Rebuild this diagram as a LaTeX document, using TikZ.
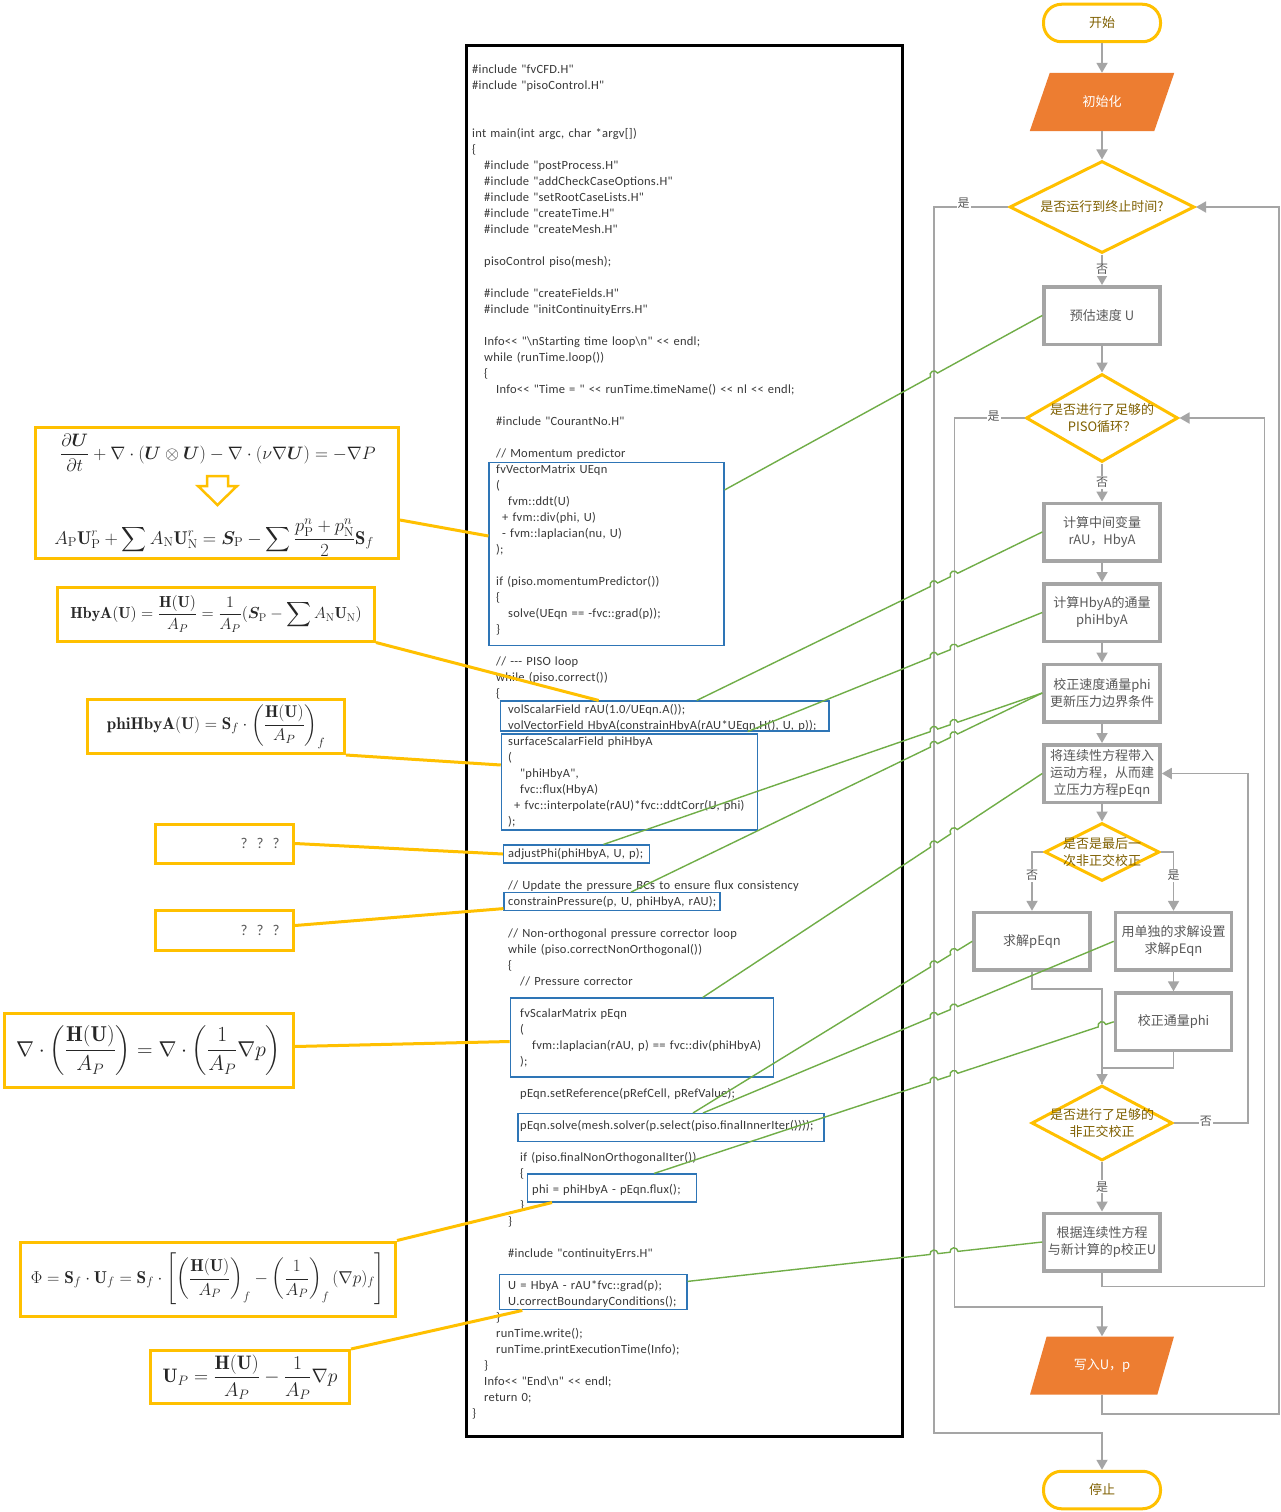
\documentclass[tikz,border=0pt]{standalone}
\usepackage{fix-cm}
\usepackage{amsmath}
\usepackage{bm}
\usepackage{fontspec}
\newfontfamily\kodefont{Carlito}[LetterSpace=2.0]
\newfontfamily\cjk{Noto Sans CJK SC}
\usetikzlibrary{arrows.meta,calc,positioning,shapes.geometric}
\definecolor{guld}{HTML}{FFC000}
\definecolor{orangefyld}{HTML}{ED7D31}
\definecolor{graa}{HTML}{A5A5A5}
\definecolor{groen}{HTML}{70AD47}
\definecolor{blaa}{HTML}{2E75B6}
\definecolor{tekstgraa}{HTML}{595959}
\definecolor{valgbrun}{HTML}{7F6000}
\newcommand{\indryk}[1]{\hspace*{#1pt}}
\newcommand{\hopsti}[3]{%
    \draw[gron] let \p1=(#1), \p2=(#2), \n1={atan2(\y2-\y1,\x2-\x1)} in
        (\p1) \foreach \xk in {#3} {
            -- ($(\p1)!{scalar((\xk-\x1)/(\x2-\x1))}!(\p2)+(\n1+180:4pt)$)
            arc[start angle=\n1+180, delta angle=-180, radius=4pt]
        } -- (\p2);}
\tikzset{
    >={Triangle[width=11pt,length=10pt]},
    formel/.style={
           draw=guld, line width=3pt,
           inner sep=2pt,
           text=black!85},
    kode/.style={
           draw=blaa, line width=1.1pt,
           inner sep=0pt},
    kodetekst/.style={
           anchor=north west,
           inner sep=0pt,
           text width=425pt,
           align=left,
           text=black!78,
           font=\kodefont\fontsize{12.5}{16}\selectfont},
    trin/.style={
           rectangle,
           draw=graa, line width=3.5pt,
           fill=white,
           minimum width=116pt, minimum height=57.5pt,
           inner sep=2pt,
           align=center,
           text=tekstgraa,
           font=\cjk\fontsize{13}{17}\selectfont},
    valg/.style={
           diamond,
           draw=guld, line width=3pt,
           fill=white,
           inner sep=0pt},
    valgtekst/.style={
           align=center,
           inner sep=0pt,
           text=valgbrun,
           font=\cjk\fontsize{13}{17}\selectfont},
    ende/.style={
           rectangle, rounded corners=18pt,
           draw=guld, line width=3pt,
           minimum width=117pt, minimum height=37.5pt,
           text=valgbrun,
           font=\cjk\fontsize{13}{17}\selectfont},
    io/.style={
           trapezium,
           trapezium left angle=65, trapezium right angle=115,
           trapezium stretches=true,
           minimum width=145pt, minimum height=58pt,
           fill=orangefyld,
           text=white,
           font=\cjk\fontsize{13}{17}\selectfont},
    pil/.style={
           ->,
           draw=graa, line width=1.8pt},
    linje/.style={
           draw=graa, line width=1.8pt},
    lys/.style={
           draw=guld, line width=3pt},
    gron/.style={
           draw=groen, line width=1.4pt},
    svar/.style={
           fill=white,
           inner sep=1pt,
           text=tekstgraa,
           font=\cjk\fontsize{12}{14}\selectfont}
}

\begin{document}
\begin{tikzpicture}[x=1pt, y=-1pt, node distance=19.5pt]
        \path[use as bounding box, fill=white] (0,0) rectangle (1281,1512);

        \node[formel, minimum width=363pt, minimum height=131pt] (f1) at (217,493) {};
        \node[text=black!85, inner sep=0pt, font=\fontsize{18}{21}\selectfont] (ns) at (218,453)
            {$\displaystyle\frac{\partial\bm{U}}{\partial t}+\nabla\cdot(\bm{U}\otimes\bm{U})-\nabla\cdot(\nu\nabla\bm{U})=-\nabla P$};
        \node[text=black!85, inner sep=0pt, font=\fontsize{18.5}{21}\selectfont] (disk) at (214,538)
            {$\displaystyle A_{\mathrm{P}}\mathbf{U}^r_{\mathrm{P}}+\sum A_{\mathrm{N}}\mathbf{U}^r_{\mathrm{N}}=\bm{S}_{\mathrm{P}}-\sum\frac{p^n_{\mathrm{P}}+p^n_{\mathrm{N}}}{2}\mathbf{S}_f$};
        \draw[lys, line width=2.5pt, line join=miter] (207,476) -- (228,476) -- (228,486) -- (237,486)
            -- (217.5,505) -- (198,486) -- (207,486) -- cycle;
        \node[formel, minimum width=317pt, minimum height=54pt, font=\fontsize{16}{19}\selectfont] (f2) at (216,614)
            {$\displaystyle\mathbf{HbyA}(\mathbf{U})=\frac{\mathbf{H}(\mathbf{U})}{A_P}=\frac{1}{A_P}(\bm{S}_{\mathrm{P}}-\sum A_{\mathrm{N}}\mathbf{U}_{\mathrm{N}})$};
        \node[formel, minimum width=257pt, minimum height=54pt, font=\fontsize{17}{20}\selectfont] (f3) at (216,726.5)
            {$\displaystyle\mathbf{phiHbyA}(\mathbf{U})=\mathbf{S}_f\cdot\left(\frac{\mathbf{H}(\mathbf{U})}{A_P}\right)_f$};
        \node[formel, minimum width=138pt, minimum height=39pt, text width=110pt, align=right,
            text=tekstgraa, font=\kodefont\fontsize{15}{17}\selectfont] (f4) at (224.5,843.5) {?\hspace{9pt}?\hspace{9pt}?};
        \node[formel, minimum width=138pt, minimum height=40pt, text width=110pt, align=right,
            text=tekstgraa, font=\kodefont\fontsize{15}{17}\selectfont] (f5) at (224.5,930.5) {?\hspace{9pt}?\hspace{9pt}?};
        \node[formel, minimum width=289pt, minimum height=74pt, font=\fontsize{21.5}{25}\selectfont] (f6) at (148.7,1050.5)
            {$\displaystyle\nabla\cdot\left(\frac{\mathbf{H}(\mathbf{U})}{A_P}\right)=\nabla\cdot\left(\frac{1}{A_P}\nabla p\right)$};
        \node[formel, minimum width=375pt, minimum height=74pt, font=\fontsize{17.2}{20}\selectfont] (f7) at (208,1279)
            {$\displaystyle\Phi=\mathbf{S}_f\cdot\mathbf{U}_f=\mathbf{S}_f\cdot\left[\left(\frac{\mathbf{H}(\mathbf{U})}{A_P}\right)_f-\left(\frac{1}{A_P}\right)_f(\nabla p)_f\right]$};
        \node[formel, minimum width=199pt, minimum height=53pt, font=\fontsize{19.5}{23}\selectfont] (f8) at (250,1377)
            {$\displaystyle\mathbf{U}_P=\frac{\mathbf{H}(\mathbf{U})}{A_P}-\frac{1}{A_P}\nabla p$};

        \node[draw, line width=3pt, minimum width=436pt, minimum height=1391pt] (kodeboks) at (684.5,741) {};
        \node[kodetekst] (kilde) at (472,61.8) {\strut\#include "fvCFD.H"\\
\#include "pisoControl.H"\\
\mbox{}\\
\mbox{}\\
int main(int argc, char *argv[])\\
\{\\
\indryk{12}\#include "postProcess.H"\\
\indryk{12}\#include "addCheckCaseOptions.H"\\
\indryk{12}\#include "setRootCaseLists.H"\\
\indryk{12}\#include "createTime.H"\\
\indryk{12}\#include "createMesh.H"\\
\mbox{}\\
\indryk{12}pisoControl piso(mesh);\\
\mbox{}\\
\indryk{12}\#include "createFields.H"\\
\indryk{12}\#include "initContinuityErrs.H"\\
\mbox{}\\
\indryk{12}Info<{}< "\textbackslash nStarting time loop\textbackslash n" <{}< endl;\\
\indryk{12}while (runTime.loop())\\
\indryk{12}\{\\
\indryk{24}Info<{}< "Time = " <{}< runTime.timeName() <{}< nl <{}< endl;\\
\mbox{}\\
\indryk{24}\#include "CourantNo.H"\\
\mbox{}\\
\indryk{24}// Momentum predictor\\
\indryk{24}fvVectorMatrix UEqn\\
\indryk{24}(\\
\indryk{36}fvm::ddt(U)\\
\indryk{30}+ fvm::div(phi, U)\\
\indryk{30}- fvm::laplacian(nu, U)\\
\indryk{24});\\
\mbox{}\\
\indryk{24}if (piso.momentumPredictor())\\
\indryk{24}\{\\
\indryk{36}solve(UEqn == -fvc::grad(p));\\
\indryk{24}\}\\
\mbox{}\\
\indryk{24}// -{}-{}- PISO loop\\
\indryk{24}while (piso.correct())\\
\indryk{24}\{\\
\indryk{36}volScalarField rAU(1.0/UEqn.A());\\
\indryk{36}volVectorField HbyA(constrainHbyA(rAU*UEqn.H(), U, p));\\
\indryk{36}surfaceScalarField phiHbyA\\
\indryk{36}(\\
\indryk{48}"phiHbyA",\\
\indryk{48}fvc::flux(HbyA)\\
\indryk{42}+ fvc::interpolate(rAU)*fvc::ddtCorr(U, phi)\\
\indryk{36});\\
\mbox{}\\
\indryk{36}adjustPhi(phiHbyA, U, p);\\
\mbox{}\\
\indryk{36}// Update the pressure BCs to ensure flux consistency\\
\indryk{36}constrainPressure(p, U, phiHbyA, rAU);\\
\mbox{}\\
\indryk{36}// Non-orthogonal pressure corrector loop\\
\indryk{36}while (piso.correctNonOrthogonal())\\
\indryk{36}\{\\
\indryk{48}// Pressure corrector\\
\mbox{}\\
\indryk{48}fvScalarMatrix pEqn\\
\indryk{48}(\\
\indryk{60}fvm::laplacian(rAU, p) == fvc::div(phiHbyA)\\
\indryk{48});\\
\mbox{}\\
\indryk{48}pEqn.setReference(pRefCell, pRefValue);\\
\mbox{}\\
\indryk{48}pEqn.solve(mesh.solver(p.select(piso.finalInnerIter())));\\
\mbox{}\\
\indryk{48}if (piso.finalNonOrthogonalIter())\\
\indryk{48}\{\\
\indryk{60}phi = phiHbyA - pEqn.flux();\\
\indryk{48}\}\\
\indryk{36}\}\\
\mbox{}\\
\indryk{36}\#include "continuityErrs.H"\\
\mbox{}\\
\indryk{36}U = HbyA - rAU*fvc::grad(p);\\
\indryk{36}U.correctBoundaryConditions();\\
\indryk{24}\}\\
\indryk{24}runTime.write();\\
\indryk{24}runTime.printExecutionTime(Info);\\
\indryk{12}\}\\
\indryk{12}Info<{}< "End\textbackslash n" <{}< endl;\\
\indryk{12}return 0;\\
\}};

        \node[kode, minimum width=235pt, minimum height=183pt] (ueqn) at (606.5,554) {};
        \node[kode, minimum width=328.5pt, minimum height=30pt] (rau) at (664.7,716) {};
        \node[kode, minimum width=256.4pt, minimum height=96pt] (phib) at (629.5,782) {};
        \node[kode, minimum width=146pt, minimum height=18pt] (adj) at (576.4,854) {};
        \node[kode, minimum width=216pt, minimum height=18pt] (cons) at (612,901.6) {};
        \node[kode, minimum width=263pt, minimum height=79pt] (peqnb) at (641.7,1037.5) {};
        \node[kode, minimum width=306pt, minimum height=28pt] (solve) at (671,1127.5) {};
        \node[kode, minimum width=169pt, minimum height=28pt] (phib2) at (612,1188) {};
        \node[kode, minimum width=187.3pt, minimum height=35pt] (ubox) at (593.3,1292.4) {};

        \node[ende] (start) at (1102,23) {开始};
        \node[io] (init) at (1102,102) {初始化};
        \node[valg, minimum width=185pt, minimum height=92pt,
            label={[valgtekst]center:是否运行到终止时间?}] (d1) at (1102,207) {};
        \node[trin] (forudsig) at (1102,315.5) {预估速度 U};
        \node[valg, minimum width=152pt, minimum height=88pt,
            label={[valgtekst]center:{是否进行了足够的\\PISO循环？}}] (d2) at (1102,418) {};
        \node[trin] (mellem) at (1102,532) {计算中间变量\\rAU，HbyA};
        \node[trin, below=of mellem] (flux) {计算HbyA的通量\\phiHbyA};
        \node[trin, below=of flux] (korr) {校正速度通量phi\\更新压力边界条件};
        \node[trin, below=of korr] (byg) {将连续性方程带入\\运动方程，从而建\\立压力方程pEqn};
        \node[valg, minimum width=115pt, minimum height=58pt,
            label={[valgtekst]center:{是否是最后一\\次非正交校正}}] (d3) at (1102,852) {};
        \node[trin] (los1) at (1032,941.3) {求解pEqn};
        \node[trin] (los2) at (1173.5,941.3) {用单独的求解设置\\求解pEqn};
        \node[trin, below=of los2] (korrphi) {校正通量phi};
        \node[valg, minimum width=141pt, minimum height=75pt,
            label={[valgtekst]center:{是否进行了足够的\\非正交校正}}] (d4) at (1102,1123) {};
        \node[trin] (ukorr) at (1102,1242) {根据连续性方程\\与新计算的p校正U};
        \node[io] (skriv) at (1102,1365.5) {写入U，p};
        \node[ende] (stopp) at (1102,1490) {停止};

        \draw[pil] (start) -- (init);
        \draw[pil] (init) -- (d1);
        \draw[pil] (d1) -- node[svar]{否} (forudsig);
        \draw[pil] (forudsig) -- (d2);
        \draw[pil] (d2) -- node[svar]{否} (mellem);
        \draw[pil] (mellem) -- (flux);
        \draw[pil] (flux) -- (korr);
        \draw[pil] (korr) -- (byg);
        \draw[pil] (byg) -- (d3);
        \draw[pil] (d3.west) -| node[svar, pos=0.7]{否} (los1);
        \draw[pil] (d3.east) -| node[svar, pos=0.7]{是} (los2);
        \draw[pil] (los2) -- (korrphi);
        \draw[pil] (los1.south) -- ++(0,17) -| (d4.north);
        \draw[linje] (korrphi.south) -- ++(0,16) -| (d4.north);
        \draw[pil] (d4.east) -- node[svar, pos=0.43, yshift=2pt]{否} ++(74,0) |- (byg.east);
        \draw[pil] (d4) -- node[svar]{是} (ukorr);
        \draw[pil] (ukorr.south) -- ++(0,14) -| ([xshift=85pt]d2.east) -- (d2.east);
        \draw[pil] (d2.west) -- node[svar, pos=0.44, yshift=2pt]{是} ++(-70,0) -- ++(0,889) -| (skriv.north);
        \draw[pil] (skriv.south) -- ++(0,19) -| ([xshift=83pt]d1.east) -- (d1.east);
        \draw[pil] (d1.west) -- node[svar, pos=0.6, yshift=4pt]{是} ++(-74,0) -- ++(0,1226) -| (stopp.north);

        \hopsti{[yshift=-28pt]ueqn.north east}{forudsig.west}{934}
        \hopsti{[xshift=32pt]rau.north}{mellem.west}{934,954}
        \hopsti{[xshift=83pt]rau.south}{flux.west}{934,954}
        \hopsti{[xshift=27pt]adj.north}{korr.west}{934,954}
        \hopsti{[xshift=19pt]cons.north}{korr.west}{934,954}
        \hopsti{[xshift=61pt]peqnb.north}{byg.west}{934,954}
        \hopsti{[xshift=22pt]solve.north}{los1.west}{934,954}
        \hopsti{[xshift=32pt]solve.north}{los2.west}{934,954}
        \hopsti{[xshift=42pt]phib2.north}{korrphi.west}{934,954,1102}
        \hopsti{[yshift=11pt]ubox.east}{ukorr.west}{934,954}

        \draw[lys] ([yshift=-27pt]f1.east) -- ([yshift=18pt]ueqn.west);
        \draw[lys] (f2.south east) -- ([xshift=-66pt]rau.north);
        \draw[lys] (f3.south east) -- ([yshift=17pt]phib.west);
        \draw[lys] (f4.east) -- (adj.west);
        \draw[lys] ([yshift=5pt]f5.east) -- ([yshift=-7pt]cons.west);
        \draw[lys] ([yshift=4pt]f6.east) -- ([yshift=-4pt]peqnb.west);
        \draw[lys] (f7.north east) -- ([xshift=-60pt]phib2.south);
        \draw[lys] (f8.north east) -- ([xshift=-71pt]ubox.south);
\end{tikzpicture}
\end{document}
